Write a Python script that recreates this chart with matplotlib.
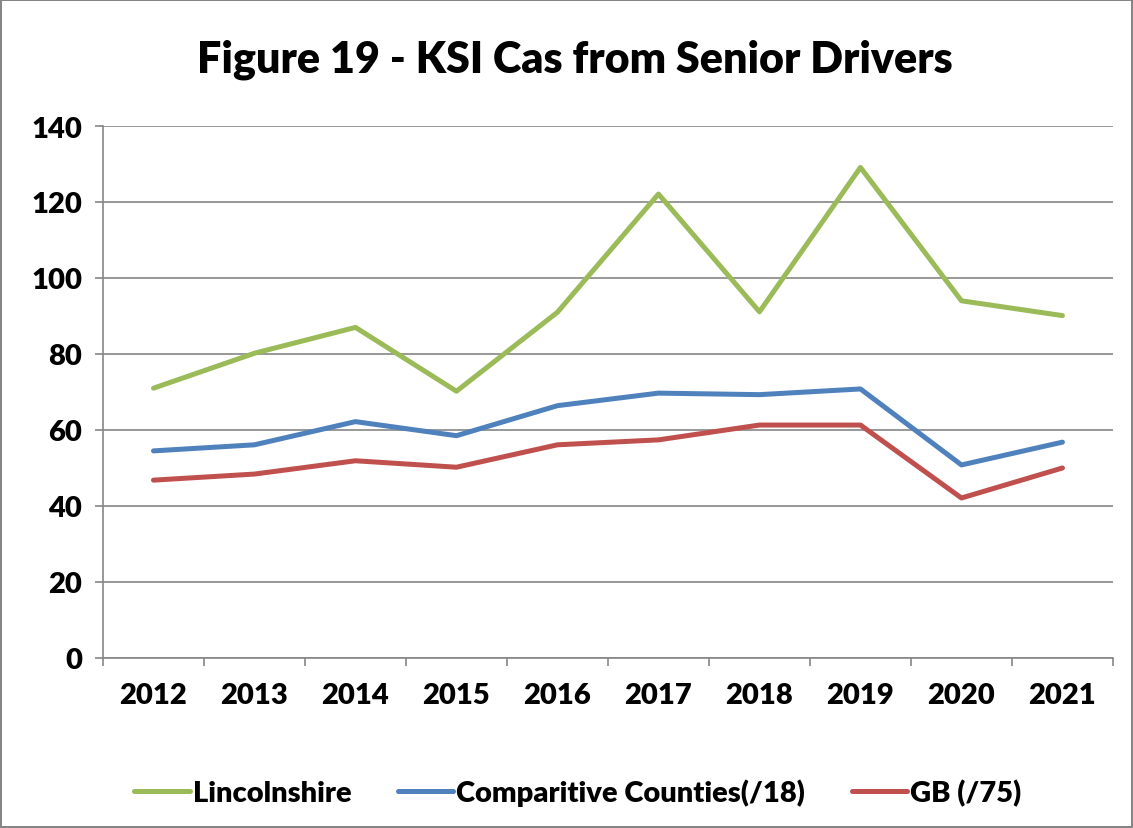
import matplotlib
matplotlib.use("Agg")
import matplotlib.pyplot as plt
import numpy as np

# data
years = ["2012", "2013", "2014", "2015", "2016", "2017", "2018", "2019", "2020", "2021"]
lincolnshire = [71, 80.2, 87, 70.2, 91, 122.1, 91.1, 129.1, 94, 90.1]
comparitive = [54.5, 56.1, 62.2, 58.5, 66.4, 69.7, 69.3, 70.8, 50.8, 56.8]
gb = [46.8, 48.4, 51.9, 50.2, 56.1, 57.4, 61.3, 61.3, 42.1, 50.0]
y_ticks = [0, 20, 40, 60, 80, 100, 120, 140]

series_names = ["Lincolnshire", "Comparitive Counties(/18)", "GB (/75)"]
series_colors = ["#9BBB59", "#4F81BD", "#C0504D"]

plt.rcParams['font.family'] = ['Lato', 'DejaVu Sans']

fig = plt.figure(figsize=(11.33, 8.29), dpi=100)
fig.patch.set_edgecolor("#868686")
fig.patch.set_linewidth(1.5)
ax = fig.add_axes([0.0909, 0.2051, 0.8914, 0.6417])

x = np.arange(len(years))
for vals, name, col in zip([lincolnshire, comparitive, gb], series_names, series_colors):
    ax.plot(x, vals, color=col, lw=3.6, label=name, solid_capstyle="round", solid_joinstyle="round")

# axes styling (Excel-like)
ax.set_xlim(-0.5, len(years) - 0.5)
ax.set_ylim(0, 140)
ax.set_yticks(y_ticks)
ax.set_yticklabels([str(v) for v in y_ticks], fontsize=21, fontweight="heavy")
ax.set_xticks(x)
ax.set_xticklabels(years, fontsize=21, fontweight="heavy")
ax.set_xticks(np.arange(-0.5, len(years), 1.0), minor=True)
ax.tick_params(axis="x", which="major", length=0, pad=17)
ax.tick_params(axis="x", which="minor", length=6, color="#868686", width=1.2)
ax.tick_params(axis="y", length=6, color="#868686", width=1.2, pad=9)
ax.yaxis.grid(True, color="#868686", lw=1.2)
ax.set_axisbelow(True)
for s in ["top", "right"]:
    ax.spines[s].set_visible(False)
for s in ["left", "bottom"]:
    ax.spines[s].set_color("#868686")
    ax.spines[s].set_linewidth(1.2)

fig.text(0.507, 0.928, "Figure 19 - KSI Cas from Senior Drivers", ha="center", va="center",
         fontsize=31, fontweight="heavy")

leg = fig.legend(loc="center", bbox_to_anchor=(0.51, 0.043), ncol=3, frameon=False,
                 prop={"size": 21, "weight": "heavy"}, handlelength=1.9, handletextpad=0.1,
                 columnspacing=1.6)

fig.savefig("out.png", dpi=100)
